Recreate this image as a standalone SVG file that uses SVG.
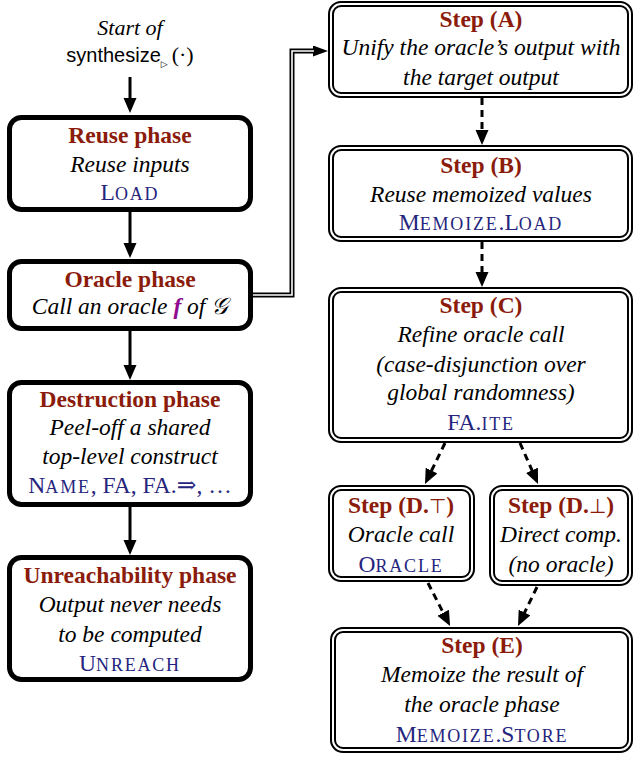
<svg xmlns="http://www.w3.org/2000/svg" width="634" height="757" viewBox="0 0 634 757">
<style>
text{font-family:"Liberation Serif","DejaVu Serif",serif;font-size:23.5px;text-anchor:middle;fill:#000}
.t{font-weight:bold;fill:#8b1c0c}
.i{font-style:italic}
.c{fill:#25257e}
.s{font-size:18px;letter-spacing:1.8px}
.sb{stroke:#000;stroke-width:5;fill:#fff}
.db{stroke:#000;stroke-width:6;fill:#fff}
.dw{stroke:#fff;stroke-width:2;fill:none}
.ar{stroke:#000;stroke-width:3;fill:none}
.da{stroke:#000;stroke-width:3;fill:none;stroke-dasharray:7 5}
</style>
<defs>
<marker id="ah" markerUnits="userSpaceOnUse" markerWidth="16" markerHeight="14" refX="7" refY="6.5" orient="auto">
<path d="M0,0 L15,6.5 L0,13 z" fill="#000"/>
</marker>
<marker id="ah2" markerUnits="userSpaceOnUse" markerWidth="16" markerHeight="12" refX="3" refY="5.5" orient="auto">
<path d="M0,0 L15,5.5 L0,11 z" fill="#000"/>
</marker>
</defs>

<g id="start">
<text class="i" x="130" y="35" style="font-size:22px">Start of</text>
<text x="130" y="62"><tspan style="font-family:'Liberation Sans',Arial,sans-serif;font-size:20px">synthesize</tspan><tspan style="font-family:'DejaVu Sans',sans-serif;font-size:9px" dy="5">▷</tspan><tspan style="font-size:22px" dx="4" dy="-5">(·)</tspan></text>
</g>

<g id="reuse">
<rect class="sb" x="9.5" y="117.5" width="241" height="92" rx="12"/>
<text class="t" x="130" y="143">Reuse phase</text>
<text class="i" x="130" y="172">Reuse inputs</text>
<text class="c" x="130" y="200">L<tspan class="s">OAD</tspan></text>
</g>

<g id="oracle">
<rect class="sb" x="9.5" y="261.5" width="241" height="67" rx="12"/>
<text class="t" x="130" y="287">Oracle phase</text>
<text class="i" x="130" y="314">Call an oracle <tspan style="fill:#8e0a8e;font-weight:bold">f</tspan> of 𝒢</text>
</g>

<g id="destruction">
<rect class="sb" x="9.5" y="382.5" width="241" height="122" rx="12"/>
<text class="t" x="130" y="407">Destruction phase</text>
<text class="i" x="130" y="435">Peel-off a shared</text>
<text class="i" x="130" y="464">top-level construct</text>
<text class="c" x="130" y="493">N<tspan class="s">AME</tspan>, FA, FA.⇒, …</text>
</g>

<g id="unreach">
<rect class="sb" x="9.5" y="557.5" width="241" height="122" rx="12"/>
<text class="t" x="130" y="583">Unreachability phase</text>
<text class="i" x="130" y="612">Output never needs</text>
<text class="i" x="130" y="642">to be computed</text>
<text class="c" x="130" y="671">U<tspan class="s">NREACH</tspan></text>
</g>

<g id="stepA">
<rect class="db" x="331" y="4" width="299" height="91" rx="10"/>
<rect class="dw" x="331" y="4" width="299" height="91" rx="10"/>
<text class="t" x="481" y="27">Step (A)</text>
<text class="i" x="481" y="55">Unify the oracle’s output with</text>
<text class="i" x="481" y="85">the target output</text>
</g>

<g id="stepB">
<rect class="db" x="331" y="148" width="299" height="91" rx="10"/>
<rect class="dw" x="331" y="148" width="299" height="91" rx="10"/>
<text class="t" x="481" y="173">Step (B)</text>
<text class="i" x="481" y="202">Reuse memoized values</text>
<text class="c" x="481" y="230">M<tspan class="s">EMOIZE</tspan>.L<tspan class="s">OAD</tspan></text>
</g>

<g id="stepC">
<rect class="db" x="331" y="290" width="299" height="150" rx="10"/>
<rect class="dw" x="331" y="290" width="299" height="150" rx="10"/>
<text class="t" x="481" y="313">Step (C)</text>
<text class="i" x="481" y="342">Refine oracle call</text>
<text class="i" x="481" y="372">(case-disjunction over</text>
<text class="i" x="481" y="400">global randomness)</text>
<text class="c" x="481" y="430">FA.<tspan class="s">ITE</tspan></text>
</g>

<g id="stepDtop">
<rect class="db" x="331" y="488" width="141" height="91" rx="10"/>
<rect class="dw" x="331" y="488" width="141" height="91" rx="10"/>
<text class="t" x="401" y="513">Step (D.<tspan style="font-weight:normal;font-family:'DejaVu Sans',sans-serif;font-size:20px">⊤</tspan>)</text>
<text class="i" x="401" y="542">Oracle call</text>
<text class="c" x="401" y="572">O<tspan class="s">RACLE</tspan></text>
</g>

<g id="stepDbot">
<rect class="db" x="492" y="488" width="138" height="95" rx="10"/>
<rect class="dw" x="492" y="488" width="138" height="95" rx="10"/>
<text class="t" x="561" y="513">Step (D.<tspan style="font-weight:normal;font-family:'DejaVu Sans',sans-serif;font-size:20px">⊥</tspan>)</text>
<text class="i" x="561" y="542">Direct comp.</text>
<text class="i" x="561" y="572">(no oracle)</text>
</g>

<g id="stepE">
<rect class="db" x="333" y="630" width="297" height="120" rx="10"/>
<rect class="dw" x="333" y="630" width="297" height="120" rx="10"/>
<text class="t" x="482" y="653">Step (E)</text>
<text class="i" x="482" y="682">Memoize the result of</text>
<text class="i" x="482" y="712">the oracle phase</text>
<text class="c" x="482" y="742">M<tspan class="s">EMOIZE</tspan>.S<tspan class="s">TORE</tspan></text>
</g>

<g id="connectors">
<line class="ar" x1="130" y1="77" x2="130" y2="105" marker-end="url(#ah)"/>
<line class="ar" x1="130" y1="212" x2="130" y2="250" marker-end="url(#ah)"/>
<line class="ar" x1="130" y1="331" x2="130" y2="372" marker-end="url(#ah)"/>
<line class="ar" x1="130" y1="507" x2="130" y2="547" marker-end="url(#ah)"/>
<path d="M253,295 H292 V51 H316" fill="none" stroke="#000" stroke-width="5" marker-end="url(#ah2)"/>
<path d="M253,295 H292 V51 H314" fill="none" stroke="#fff" stroke-width="1.6"/>
<line class="da" x1="482" y1="98" x2="482" y2="137" marker-end="url(#ah)"/>
<line class="da" x1="482" y1="242" x2="482" y2="279" marker-end="url(#ah)"/>
<line class="da" x1="445" y1="443" x2="428.5" y2="476.8" marker-end="url(#ah)"/>
<line class="da" x1="520" y1="443" x2="534.8" y2="476.7" marker-end="url(#ah)"/>
<line class="da" x1="428" y1="583" x2="446.4" y2="618.9" marker-end="url(#ah)"/>
<line class="da" x1="537" y1="587" x2="521.5" y2="618.8" marker-end="url(#ah)"/>
</g>
</svg>
